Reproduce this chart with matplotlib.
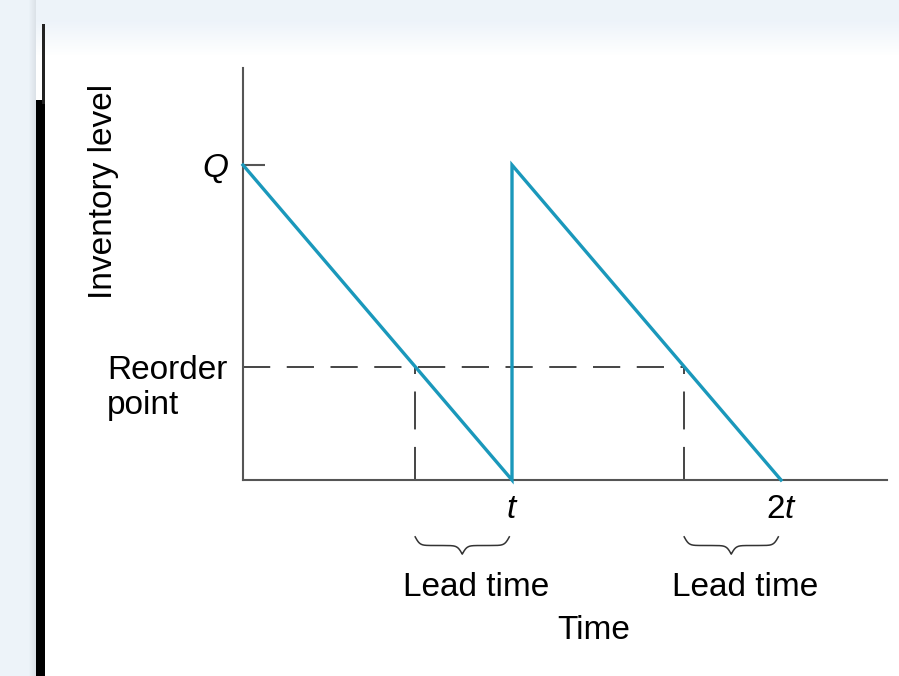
import numpy as np
import matplotlib
matplotlib.use('Agg')
import matplotlib.pyplot as plt
from matplotlib.patches import Rectangle
from matplotlib.transforms import blended_transform_factory

plt.rcParams['font.family'] = ['Liberation Sans', 'DejaVu Sans']
plt.rcParams['mathtext.fontset'] = 'custom'
plt.rcParams['mathtext.rm'] = 'Liberation Sans'
plt.rcParams['mathtext.it'] = 'Liberation Sans:italic'

# inventory cycle (units: t = cycle length, Q = order quantity)
t = 1.0
Q = 1.0
reorder = 0.36
lead = reorder / Q * t

cycle_x = [0, t, t, 2 * t]
cycle_y = [Q, 0, Q, 0]
x_ticks = [t, 2 * t]
x_tick_labels = ['$t$', '$2t$']

line_col = '#1a98bb'
axis_col = '#555555'
dash_col = '#444444'
fs = 24

fig = plt.figure(figsize=(8.99, 6.76), dpi=100)
fig.patch.set_facecolor('white')

# page background (slide frame)
W, H = 899, 676
def px(x0, y0, w, h, **kw):
    fig.patches.append(Rectangle((x0 / W, 1 - (y0 + h) / H), w / W, h / H,
                                 transform=fig.transFigure, lw=0, **kw))

bg = fig.add_axes([0, 0, 1, 1], zorder=-5)
bg.axis('off')
grad = np.ones((H, W, 3))
blue = np.array([0.93, 0.955, 0.98])
top = np.clip((np.arange(H) - 20) / 35.0, 0, 1)
for i in range(H):
    grad[i] = blue * (1 - top[i]) + np.ones(3) * top[i]
grad[:, :36] = blue
for k, c in enumerate(range(28, 36)):
    grad[:, c] = blue * (1 - 0.01 * k)
bg.imshow(grad, extent=[0, W, H, 0], aspect='auto')
bg.set_xlim(0, W)
bg.set_ylim(H, 0)
px(36, 100, 9, 576, color='black')
px(42, 24, 3, 80, color='#222222')

ax = fig.add_axes([243 / W, (H - 480) / H, 644 / W, 412 / H])
ax.set_facecolor('none')
ax.set_xlim(0, 2.394)
ax.set_ylim(0, 1.308)

ax.plot(cycle_x, cycle_y, color=line_col, lw=2.4, solid_joinstyle='miter', zorder=3,
        clip_on=False)

ax.plot([0, 2 * t - lead], [reorder, reorder], color=dash_col, lw=1.4,
        linestyle=(0, (14, 8.5)))
for xv in [t - lead, 2 * t - lead]:
    ax.plot([xv, xv], [reorder, 0], color=dash_col, lw=1.4,
            linestyle=(0, (3.6, 9, 19.5, 9, 18, 5)))

for s in ['top', 'right']:
    ax.spines[s].set_visible(False)
for s in ['left', 'bottom']:
    ax.spines[s].set_color(axis_col)
    ax.spines[s].set_linewidth(1.5)

ax.set_yticks([Q])
ax.set_yticklabels(['$Q$'], fontsize=fs)
ax.tick_params(axis='y', direction='in', length=16, width=1.5, color=axis_col, pad=10)
ax.set_xticks(x_ticks)
ax.set_xticklabels(x_tick_labels, fontsize=fs)
ax.tick_params(axis='x', length=0, pad=10)

yb = blended_transform_factory(ax.transAxes, ax.transData)
ax.text(-0.211, reorder - 0.068, 'Reorder\npoint', transform=yb, fontsize=fs,
        ha='left', va='center', linespacing=1.15)

ax.text(-0.217, 0.70, 'Inventory level', transform=ax.transAxes, fontsize=fs,
        rotation=90, ha='center', va='center')
ax.text(0.545, -0.365, 'Time', transform=ax.transAxes, fontsize=fs, ha='center', va='center')

# lead time braces
xb = blended_transform_factory(ax.transData, ax.transAxes)
def brace(x0, x1, ytop, height):
    n = 301
    xs = np.linspace(x0, x1, n)
    half = xs[:n // 2 + 1]
    beta = 40.0 / (x1 - x0)
    yh = 1 / (1 + np.exp(-beta * (half - half[0]))) + 1 / (1 + np.exp(-beta * (half - half[-1])))
    ys = np.concatenate((yh, yh[-2::-1]))
    ys = ytop - (ys - 0.5) * height
    ax.plot(xs, ys, color='#333333', lw=1.1, transform=xb, clip_on=False)

for xe in x_ticks:
    brace(xe - lead, xe - 0.01, -0.138, 0.042)
    ax.text(xe - lead / 2 + 0.045, -0.26, 'Lead time', transform=xb, fontsize=fs,
            ha='center', va='center')

fig.savefig('out.png', dpi=100)
